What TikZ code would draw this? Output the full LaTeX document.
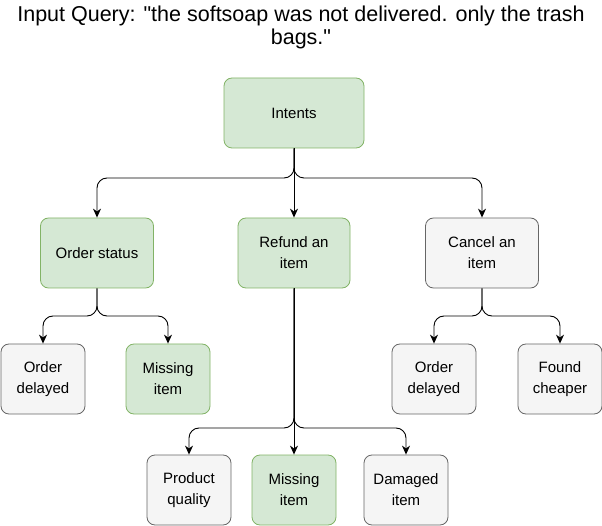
\documentclass[tikz,border=0pt]{standalone}
\usepackage{fontspec}
\setmainfont{Liberation Sans}
\newfontfamily\plainf{Liberation Sans}
\usetikzlibrary{arrows.meta}
\begin{document}
\begin{tikzpicture}[x=1pt,y=-1pt,
 box/.style={draw,rounded corners=8pt,minimum width=#1,minimum height=70pt,align=center,font=\fontsize{15}{21}\selectfont,line width=0.8pt},
 g/.style={box=#1,fill={rgb,255:red,213;green,232;blue,212},draw={rgb,255:red,130;green,179;blue,102}},
 s/.style={box=#1,fill={rgb,255:red,245;green,245;blue,245},draw={rgb,255:red,102;green,102;blue,102}},
 ar/.style={-{Stealth[length=9pt,width=8pt]},line width=0.9pt,rounded corners=10pt}]
\useasboundingbox (0,0) rectangle (602,526);
\node[font=\plainf\fontsize{21.5}{23}\selectfont,align=center,inner sep=0pt] (t) at (301,27) {Input Query: "the softsoap was not delivered. only the trash\\bags."};
\node[g=140pt] (i) at (294,113) {Intents};
\node[g=113pt] (os) at (97,253) {Order status};
\node[g=112pt] (ri) at (294,253) {Refund an\\item};
\node[s=113pt] (ci) at (482,253) {Cancel an\\item};
\node[s=84pt] (od1) at (43,379) {Order\\delayed};
\node[g=84pt] (mi1) at (168,379) {Missing\\item};
\node[s=84pt] (od2) at (434,379) {Order\\delayed};
\node[s=84pt] (fc) at (560,379) {Found\\cheaper};
\node[s=84pt] (pq) at (189,490) {Product\\quality};
\node[g=84pt] (mi2) at (294,490) {Missing\\item};
\node[s=84pt] (di) at (406,490) {Damaged\\item};
\draw[ar] (i.south) -- (294,178) -| (os.north);
\draw[ar] (i.south) -- (294,178) -| (ci.north);
\draw[ar] (i.south) -- (ri.north);
\draw[ar] (os.south) -- (97,316) -| (od1.north);
\draw[ar] (os.south) -- (97,316) -| (mi1.north);
\draw[ar] (ci.south) -- (482,316) -| (od2.north);
\draw[ar] (ci.south) -- (482,316) -| (fc.north);
\draw[ar] (ri.south) -- (294,428) -| (pq.north);
\draw[ar] (ri.south) -- (294,428) -| (di.north);
\draw[ar] (ri.south) -- (mi2.north);
\end{tikzpicture}
\end{document}
